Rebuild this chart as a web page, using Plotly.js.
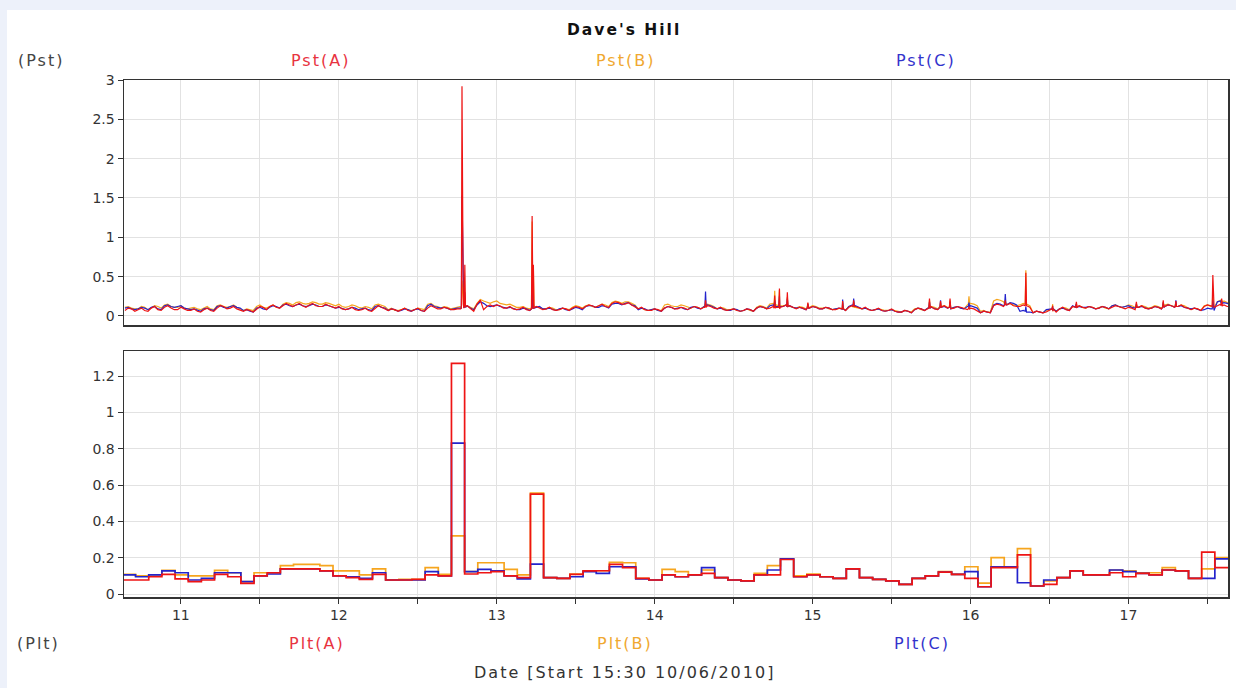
<!DOCTYPE html>
<html><head><meta charset="utf-8">
<script src="https://cdn.plot.ly/plotly-3.0.1.min.js"></script>
<style>
html,body{margin:0;padding:0;background:#edf1fa;width:1236px;height:688px;overflow:hidden}
#chart{position:absolute;left:7px;top:10px;width:1229px;height:678px;background:#fff}
#chart .annotation-text{letter-spacing:2px}
</style></head><body><div id="chart"></div>
<script>
// ---- Pst: hourly samples starting 15:30 on the 10th (day-of-month units) ----
const pstStart = 10.646;
const pstStepDays = 1 / 24;
const pstA = [
 .07,.09, .08,.07, .10,.08, .11,.10, .08,.09, .07,.06, .08,.07, .10,.12, .10,.09, .06,.07,
 .09,.11, .12,.11, .13,.14, .14,.13, .14,.13, .12,.13, .10,.09, .09,.08, .08,.07, .10,.11,
 .07,.08, .08,.07, .08,.07, .10,.11, .09,.10, .08,.09, .13,.06, .20,.12, .12,.13, .10,.09,
 .09,.08, .09,.10, .09,.08, .08,.09, .10,.11, .12,.13, .13,.12, .16,.17, .15,.14, .09,.08,
 .07,.08, .10,.11, .09,.10, .10,.11, .11,.12, .09,.08, .08,.07, .07,.08, .10,.11, .10,.11,
 .12,.13, .09,.10, .10,.11, .09,.10, .08,.09, .11,.12, .09,.08, .08,.07, .07,.06, .05,.06,
 .08,.09, .10,.09, .11,.10, .10,.11, .08,.09, .04,.05, .13,.14, .14,.13, .12,.13, .04,.05,
 .05,.06, .09,.08, .12,.13, .10,.11, .10,.11, .11,.12, .09,.10, .11,.10, .10,.11, .12,.13,
 .12,.11, .08,.09, .12,.13, .13,.14, .12];
const pstB = [
 .11,.10, .09,.11, .10,.12, .14,.12, .11,.10, .10,.09, .10,.09, .13,.12, .12,.11, .07,.08,
 .12,.11, .12,.11, .15,.16, .17,.16, .16,.17, .15,.16, .13,.12, .12,.13, .10,.11, .14,.13,
 .08,.07, .08,.08, .08,.09, .15,.13, .10,.11, .10,.12, .13,.09, .21,.17, .18,.16, .14,.13,
 .11,.10, .10,.11, .09,.10, .08,.09, .11,.12, .13,.12, .13,.14, .17,.18, .18,.16, .09,.08,
 .08,.07, .14,.13, .12,.13, .10,.11, .13,.14, .09,.10, .08,.07, .07,.07, .11,.12, .15,.14,
 .13,.12, .10,.11, .11,.12, .10,.09, .09,.08, .12,.11, .09,.08, .08,.08, .07,.07, .05,.06,
 .09,.08, .10,.11, .12,.11, .11,.10, .14,.15, .06,.05, .19,.20, .15,.14, .14,.15, .04,.05,
 .07,.06, .09,.10, .12,.13, .10,.11, .11,.10, .13,.12, .12,.13, .11,.12, .11,.12, .14,.13,
 .12,.13, .08,.09, .13,.12, .18,.19, .16];
const pstC = [
 .10,.09, .09,.10, .11,.09, .13,.12, .12,.10, .08,.07, .09,.08, .12,.11, .12,.11, .07,.06,
 .10,.09, .11,.12, .14,.13, .14,.13, .13,.14, .12,.13, .10,.09, .09,.10, .09,.08, .12,.11,
 .07,.08, .07,.08, .08,.07, .13,.12, .10,.09, .09,.10, .13,.08, .18,.13, .13,.12, .10,.09,
 .08,.09, .10,.12, .09,.08, .09,.08, .09,.10, .12,.13, .11,.12, .15,.16, .16,.14, .08,.09,
 .08,.07, .10,.11, .10,.09, .11,.10, .12,.13, .09,.08, .07,.08, .07,.08, .10,.11, .13,.12,
 .12,.13, .10,.09, .10,.11, .09,.10, .09,.08, .12,.13, .09,.08, .08,.07, .07,.06, .05,.06,
 .08,.09, .10,.09, .11,.10, .11,.10, .12,.11, .04,.05, .14,.15, .14,.16, .06,.05, .04,.05,
 .08,.07, .09,.08, .13,.12, .11,.10, .10,.11, .13,.12, .12,.11, .11,.10, .10,.11, .12,.13,
 .12,.11, .09,.08, .08,.09, .18,.17, .15];

// ---- Pst: half-hour samples in between the hourly ones (short-term flicker) ----
const pstMidA = [
 .10,.06, .10,.06, .12,.07, .13,.08, .11,.07, .09,.05, .10,.06, .13,.09, .12,.07, .08,.05,
 .12,.08, .14,.10, .16,.12, .16,.11, .16,.12, .15,.11, .12,.08, .11,.07, .10,.06, .13,.09,
 .09,.06, .10,.06, .10,.06, .13,.09, .11,.08, .09,.10, .09,.15, .08,.14, .14,.10, .12,.08,
 .11,.07, .12,.08, .11,.07, .10,.07, .12,.09, .14,.11, .15,.11, .18,.15, .17,.12, .11,.07,
 .09,.06, .12,.09, .11,.08, .12,.09, .13,.10, .11,.07, .09,.06, .09,.06, .12,.09, .12,.09,
 .14,.11, .11,.08, .12,.09, .11,.08, .10,.07, .13,.10, .11,.07, .10,.06, .09,.05, .07,.04,
 .10,.07, .12,.08, .13,.09, .12,.09, .10,.07, .06,.04, .15,.12, .16,.12, .14,.11, .06,.04,
 .07,.05, .11,.07, .14,.11, .12,.09, .12,.09, .13,.10, .11,.08, .13,.09, .12,.09, .14,.11,
 .14,.10, .10,.07, .14,.11, .15,.12];
const pstMidB = [
 .12,.09, .12,.08, .13,.10, .15,.11, .13,.09, .11,.08, .12,.08, .14,.11, .14,.09, .09,.07,
 .14,.10, .14,.10, .17,.14, .18,.15, .18,.15, .17,.14, .15,.11, .14,.11, .12,.09, .15,.12,
 .10,.07, .10,.07, .10,.08, .16,.12, .12,.09, .11,.12, .11,.16, .19,.16, .19,.15, .15,.11,
 .12,.09, .12,.09, .11,.08, .10,.08, .13,.10, .14,.11, .15,.12, .19,.16, .18,.14, .10,.07,
 .09,.07, .15,.12, .14,.11, .12,.09, .15,.12, .11,.08, .09,.06, .09,.06, .13,.10, .16,.13,
 .14,.11, .12,.09, .13,.10, .11,.08, .10,.07, .13,.10, .10,.07, .09,.07, .08,.06, .07,.05,
 .10,.07, .12,.09, .13,.10, .12,.09, .16,.13, .07,.05, .21,.18, .16,.13, .16,.13, .06,.04,
 .08,.06, .11,.08, .14,.11, .12,.09, .12,.09, .14,.11, .14,.11, .13,.10, .13,.10, .15,.12,
 .14,.11, .10,.07, .14,.11, .20,.17];
const pstMidC = [
 .11,.08, .11,.08, .12,.08, .14,.11, .13,.09, .09,.06, .10,.07, .13,.10, .13,.10, .08,.05,
 .11,.08, .13,.10, .15,.12, .15,.12, .15,.12, .14,.11, .11,.08, .11,.08, .10,.07, .13,.10,
 .09,.06, .09,.06, .09,.06, .15,.11, .11,.08, .10,.11, .10,.14, .16,.12, .14,.11, .11,.08,
 .10,.07, .11,.09, .10,.07, .10,.07, .11,.08, .13,.11, .13,.10, .16,.14, .17,.13, .10,.07,
 .09,.06, .12,.09, .11,.08, .12,.09, .14,.11, .10,.07, .09,.06, .09,.06, .12,.09, .14,.11,
 .14,.11, .11,.08, .12,.09, .11,.08, .10,.07, .14,.11, .10,.07, .09,.06, .08,.05, .07,.04,
 .10,.07, .11,.08, .12,.09, .12,.09, .13,.10, .06,.04, .16,.13, .17,.14, .07,.05, .06,.04,
 .09,.06, .10,.07, .14,.11, .12,.09, .12,.09, .14,.11, .13,.10, .12,.09, .12,.09, .14,.11,
 .13,.10, .10,.07, .10,.07, .19,.16];

// ---- short Pst events (time in days, value per phase) ----
const spikeT = [12.776,12.780,12.784,12.788,12.794,12.798,12.802,
 13.220,13.224,13.228,13.232,13.236,
 14.318,14.322,14.326, 14.756,14.760,14.764, 14.786,14.790,14.794, 14.836,14.840,14.844,
 14.966,14.970,14.974, 15.186,15.190,15.194, 15.256,15.260,15.264, 15.736,15.740,15.744,
 15.806,15.810,15.814, 15.866,15.870,15.874, 15.986,15.990,15.994, 16.216,16.220,16.224,
 16.346,16.350,16.354, 16.516,16.520,16.524, 16.666,16.670,16.674, 17.046,17.050,17.054,
 17.216,17.220,17.224, 17.296,17.300,17.304, 17.530,17.534,17.538, 17.586,17.590,17.594];
const spikeA = [.10,2.92,1.2,.15,.12,.65,.12,
 .09,1.27,.12,.65,.10,
 .11,.20,.11, .10,.26,.10, .11,.35,.11, .12,.30,.12,
 .10,.17,.10, .09,.19,.09, .12,.20,.12, .10,.22,.10,
 .11,.19,.11, .11,.22,.11, .09,.12,.09, .14,.20,.14,
 .13,.55,.13, .09,.13,.09, .11,.18,.11, .11,.18,.11,
 .11,.20,.11, .12,.19,.12, .12,.52,.12, .13,.22,.13];
const spikeB = [.10,.45,.35,.12,.11,.25,.11,
 .10,1.2,.12,.6,.11,
 .13,.16,.13, .13,.32,.13, .13,.33,.13, .12,.24,.12,
 .11,.16,.11, .10,.17,.10, .11,.18,.11, .10,.20,.10,
 .12,.17,.12, .11,.20,.11, .15,.25,.15, .15,.18,.15,
 .15,.58,.15, .09,.15,.09, .11,.16,.11, .12,.16,.12,
 .12,.18,.12, .12,.17,.12, .13,.30,.13, .17,.20,.17];
const spikeC = [.10,1.53,1.04,.12,.11,.30,.11,
 .09,.30,.10,.15,.10,
 .12,.31,.12, .12,.20,.12, .12,.25,.12, .12,.22,.12,
 .10,.15,.10, .09,.21,.09, .12,.22,.12, .10,.18,.10,
 .11,.20,.11, .11,.18,.11, .12,.17,.12, .15,.28,.15,
 .06,.12,.06, .09,.12,.09, .11,.15,.11, .11,.15,.11,
 .11,.17,.11, .12,.20,.12, .09,.20,.09, .16,.19,.16];

// ---- Plt: 2-hour values ----
const pltStart = 10.63;
const pltStepDays = 1 / 12;
const pltA = [.077,.077,.095,.108,.083,.068,.077,.108,.095,.059,
 .10,.117,.138,.138,.138,.127,.10,.09,.08,.108,
 .077,.077,.08,.105,.10,1.27,.11,.117,.123,.10,
 .09,.55,.09,.086,.108,.127,.128,.163,.145,.086,
 .077,.105,.095,.105,.114,.09,.077,.072,.105,.105,
 .19,.095,.105,.095,.086,.138,.09,.08,.072,.053,
 .086,.10,.12,.108,.086,.04,.145,.145,.215,.044,
 .053,.09,.127,.105,.105,.117,.095,.114,.105,.132,
 .127,.086,.23,.145];
const pltB = [.108,.10,.105,.13,.105,.10,.10,.13,.117,.068,
 .117,.117,.156,.163,.163,.156,.127,.127,.105,.138,
 .077,.08,.08,.145,.108,.32,.123,.172,.172,.136,
 .105,.555,.09,.086,.11,.128,.128,.174,.172,.086,
 .077,.136,.123,.105,.132,.09,.077,.072,.114,.156,
 .193,.10,.11,.095,.086,.138,.09,.08,.072,.053,
 .086,.10,.123,.108,.15,.06,.20,.15,.25,.044,
 .072,.09,.127,.105,.105,.132,.128,.117,.117,.145,
 .127,.086,.138,.20];
const pltC = [.105,.095,.105,.127,.117,.077,.086,.117,.117,.068,
 .10,.11,.138,.138,.138,.127,.10,.095,.086,.117,
 .077,.077,.077,.123,.10,.83,.123,.136,.127,.10,
 .083,.165,.09,.086,.095,.123,.114,.15,.15,.083,
 .077,.105,.095,.105,.145,.09,.077,.072,.105,.132,
 .193,.095,.105,.095,.086,.138,.09,.08,.072,.053,
 .086,.10,.12,.108,.123,.04,.15,.15,.062,.044,
 .077,.09,.127,.105,.105,.132,.123,.114,.105,.132,
 .127,.086,.086,.193];

// ---- axes ----
const xRange = [10.64, 17.63];
const xTickVals = [11, 12, 13, 14, 15, 16, 17];
const xTickText = ['11', '12', '13', '14', '15', '16', '17'];
const pstTickVals = [0, 0.5, 1, 1.5, 2, 2.5, 3];
const pstTickText = ['0', '0.5', '1', '1.5', '2', '2.5', '3'];
const pltTickVals = [0, 0.2, 0.4, 0.6, 0.8, 1, 1.2];
const pltTickText = ['0', '0.2', '0.4', '0.6', '0.8', '1', '1.2'];

const RED = '#ee1414', ORANGE = '#f6a51e', BLUE = '#2323cc';
const FONT = 'DejaVu Sans, Verdana, sans-serif';

function pstSeries(base, mids, spikes) {
  const pts = base.map((v, i) => [pstStart + i * pstStepDays, v]);
  mids.forEach((v, i) => pts.push([pstStart + (i + 0.5) * pstStepDays, v]));
  spikeT.forEach((t, j) => pts.push([t, spikes[j]]));
  pts.sort((a, b) => a[0] - b[0]);
  return { x: pts.map(p => p[0]), y: pts.map(p => p[1]) };
}
function pltSeries(vals) {
  const x = vals.map((_, k) => pltStart + k * pltStepDays);
  x.push(pltStart + vals.length * pltStepDays);
  const y = vals.slice(); y.push(vals[vals.length - 1]);
  return { x, y };
}

const sA = pstSeries(pstA, pstMidA, spikeA), sB = pstSeries(pstB, pstMidB, spikeB), sC = pstSeries(pstC, pstMidC, spikeC);
const lA = pltSeries(pltA), lB = pltSeries(pltB), lC = pltSeries(pltC);

const traces = [
  { x: sB.x, y: sB.y, xaxis: 'x', yaxis: 'y', mode: 'lines', line: { color: ORANGE, width: 1.2 } },
  { x: sC.x, y: sC.y, xaxis: 'x', yaxis: 'y', mode: 'lines', line: { color: BLUE, width: 1.2 } },
  { x: sA.x, y: sA.y, xaxis: 'x', yaxis: 'y', mode: 'lines', line: { color: RED, width: 1.2 } },
  { x: lB.x, y: lB.y, xaxis: 'x2', yaxis: 'y2', mode: 'lines', line: { color: ORANGE, width: 1.7, shape: 'hv' } },
  { x: lC.x, y: lC.y, xaxis: 'x2', yaxis: 'y2', mode: 'lines', line: { color: BLUE, width: 1.7, shape: 'hv' } },
  { x: lA.x, y: lA.y, xaxis: 'x2', yaxis: 'y2', mode: 'lines', line: { color: RED, width: 1.7, shape: 'hv' } }
];

// page pixel -> paper coordinates (plot area spans page x 124..1228, y 80..597)
const P = (x, y) => ({ x: (x - 124) / 1104, y: (597 - y) / 517 });
function ann(text, px, py, color, size, bold) {
  const p = P(px, py);
  return { text, x: p.x, y: p.y, xref: 'paper', yref: 'paper', xanchor: 'center', yanchor: 'middle',
    showarrow: false, font: { family: FONT, size, color, weight: bold ? 700 : 400 } };
}
const annotations = [
  ann("Dave's Hill", 624, 30, '#111', 15.5, true),
  ann('(Pst)', 41, 61, '#444', 16),
  ann('Pst(A)', 320, 61, '#e8333f', 16),
  ann('Pst(B)', 625, 61, '#f0a830', 16),
  ann('Pst(C)', 926, 61, '#3333cc', 16),
  ann('(Plt)', 38, 643, '#444', 16),
  ann('Plt(A)', 317, 643, '#e8333f', 16),
  ann('Plt(B)', 625, 643, '#f0a830', 16),
  ann('Plt(C)', 922, 643, '#3333cc', 16),
  ann('Date [Start 15:30 10/06/2010]', 624, 672, '#333', 16)
];

const axisCommon = {
  range: xRange, showline: true, mirror: true, linecolor: '#333', linewidth: 1.5,
  zeroline: false, showgrid: true, gridcolor: '#e2e2e2', gridwidth: 1
};
const layout = {
  width: 1229, height: 678,
  margin: { l: 117, r: 8, t: 70, b: 91 },
  paper_bgcolor: '#ffffff', plot_bgcolor: '#ffffff',
  showlegend: false, hovermode: false,
  font: { family: FONT, size: 14, color: '#333' },
  xaxis: Object.assign({}, axisCommon, { anchor: 'y', domain: [0, 1], showticklabels: false, ticks: '',
    tick0: 11, dtick: 0.5 }),
  xaxis2: Object.assign({}, axisCommon, { anchor: 'y2', domain: [0, 1], tickmode: 'array',
    tickvals: xTickVals, ticktext: xTickText, ticks: 'outside', ticklen: 5, tickcolor: '#333',
    tickfont: { family: FONT, size: 14, color: '#333' },
    minor: { tick0: 10.5, dtick: 0.5, ticks: 'outside', ticklen: 5, tickcolor: '#333', showgrid: true, gridcolor: '#e2e2e2' } }),
  yaxis: Object.assign({}, axisCommon, { anchor: 'x', domain: [0.5261, 1], range: [-0.115, 3.0],
    tickmode: 'array', tickvals: pstTickVals, ticktext: pstTickText, ticks: 'outside', ticklen: 5,
    tickcolor: '#333', tickfont: { family: FONT, size: 14, color: '#333' } }),
  yaxis2: Object.assign({}, axisCommon, { anchor: 'x2', domain: [0, 0.4758], range: [-0.0165, 1.3376],
    tickmode: 'array', tickvals: pltTickVals, ticktext: pltTickText, ticks: 'outside', ticklen: 5,
    tickcolor: '#333', tickfont: { family: FONT, size: 14, color: '#333' } }),
  annotations
};
Plotly.newPlot('chart', traces, layout, { staticPlot: true, displayModeBar: false });
</script></body></html>
